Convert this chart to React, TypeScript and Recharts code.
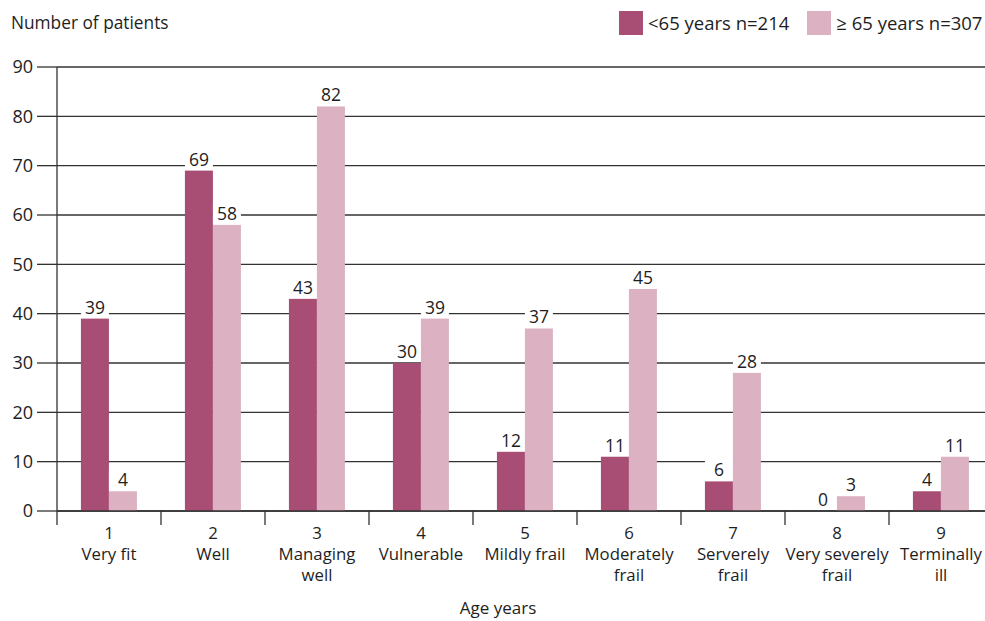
import { BarChart, Bar, XAxis, YAxis, CartesianGrid } from 'recharts';

const scores = ['1', '2', '3', '4', '5', '6', '7', '8', '9'];
const stageNames = [
  ['Very fit'],
  ['Well'],
  ['Managing', 'well'],
  ['Vulnerable'],
  ['Mildly frail'],
  ['Moderately', 'frail'],
  ['Serverely', 'frail'],
  ['Very severely', 'frail'],
  ['Terminally', 'ill']
];
const under65 = [39, 69, 43, 30, 12, 11, 6, 0, 4];
const over65 = [4, 58, 82, 39, 37, 45, 28, 3, 11];
const yTicks = [0, 10, 20, 30, 40, 50, 60, 70, 80, 90];
const seriesNames = ['<65 years n=214', '\u2265 65 years n=307'];

const DARK = '#a84d74';
const LIGHT = '#dcb2c3';
const LINE = '#333333';
const TEXT = '#1e1e1e';
const FONT = '"Open Sans", sans-serif';

const CHART_W = 1000;
const PLOT_LEFT = 57;
const PLOT_RIGHT = 7;
const BAND = (CHART_W - PLOT_LEFT - PLOT_RIGHT) / scores.length;

const data = scores.map((s, i) => ({
  score: s,
  under: under65[i],
  over: over65[i]
}));

function CategoryTick(props: any) {
  const { x, y, payload, index } = props;
  const lines = [payload.value, ...stageNames[index]];
  return (
    <g>
      <line x1={x - BAND / 2} x2={x - BAND / 2} y1={y} y2={y + 14} stroke={LINE} strokeWidth={1.3} />
      {index === scores.length - 1 && (
        <line x1={x + BAND / 2} x2={x + BAND / 2} y1={y} y2={y + 14} stroke={LINE} strokeWidth={1.3} />
      )}
      {lines.map((t: string, i: number) => (
        <text key={i} x={x} y={y + 28 + i * 21} textAnchor="middle" fill={TEXT} fontSize={16.8} fontFamily={FONT}>
          {t}
        </text>
      ))}
    </g>
  );
}

// bar plus its value label on a white box (drawn even for zero-height bars)
function BarWithLabel(props: any) {
  const { x, y, width, height, fill, value } = props;
  const v = Array.isArray(value) ? value[1] - value[0] : value;
  return (
    <g>
      {height > 0 && <rect x={x} y={y} width={width} height={height} fill={fill} />}
      <rect x={x} y={y - 21} width={width} height={20} fill="#ffffff" />
      <text x={x + width / 2} y={y - 5} textAnchor="middle" fill={TEXT} fontSize={17.5} fontFamily={FONT}>
        {v}
      </text>
    </g>
  );
}

function LegendBox() {
  const colors = [DARK, LIGHT];
  return (
    <div style={{ position: 'absolute', left: 619, top: 11, display: 'flex', alignItems: 'center', fontFamily: FONT, fontSize: 18.5, color: TEXT, lineHeight: '24px', whiteSpace: 'nowrap' }}>
      {seriesNames.map((name, i) => (
        <div key={i} style={{ display: 'flex', alignItems: 'center', marginRight: i === 0 ? 18 : 0 }}>
          <span style={{ width: 24, height: 24, background: colors[i], display: 'inline-block', marginRight: 5 }} />
          <span>{name}</span>
        </div>
      ))}
    </div>
  );
}

export default function App() {
  return (
    <div style={{ position: 'absolute', left: 0, top: 0, width: 985, height: 621, overflow: 'hidden', background: '#fff', fontFamily: FONT }}>
      <div style={{ position: 'absolute', left: 11, top: 11, fontSize: 17.3, color: TEXT }}>Number of patients</div>
      <div style={{ position: 'absolute', left: 0, width: 996, top: 596, textAlign: 'center', fontSize: 17, color: TEXT }}>Age years</div>
      <LegendBox />
      <BarChart
        width={CHART_W}
        height={621}
        data={data}
        margin={{ top: 67, right: PLOT_RIGHT, left: 0, bottom: 0 }}
        barCategoryGap="23%"
        barGap={0}
      >
        <CartesianGrid vertical={false} stroke={LINE} strokeWidth={1.3} />
        <YAxis
          width={PLOT_LEFT}
          domain={[0, 90]}
          ticks={yTicks}
          interval={0}
          tickSize={20}
          tickMargin={4}
          axisLine={{ stroke: LINE, strokeWidth: 1.3 }}
          tickLine={{ stroke: LINE, strokeWidth: 1.3 }}
          tick={{ fill: TEXT, fontSize: 18, fontFamily: FONT }}
        />
        <XAxis
          dataKey="score"
          height={110}
          interval={0}
          tickLine={false}
          tickSize={0}
          tickMargin={0}
          axisLine={{ stroke: LINE, strokeWidth: 1.3 }}
          tick={<CategoryTick />}
        />
        <Bar dataKey="under" name={seriesNames[0]} fill={DARK} isAnimationActive={false} shape={<BarWithLabel />} />
        <Bar dataKey="over" name={seriesNames[1]} fill={LIGHT} isAnimationActive={false} shape={<BarWithLabel />} />
      </BarChart>
    </div>
  );
}
